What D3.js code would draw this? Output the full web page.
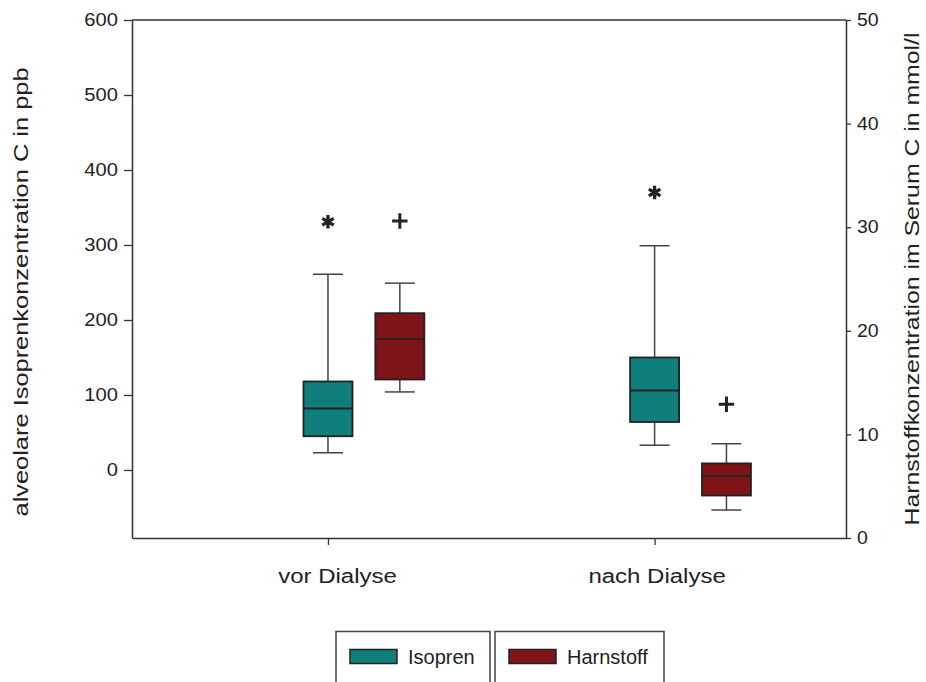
<!DOCTYPE html>
<html>
<head>
<meta charset="utf-8">
<script src="https://cdn.jsdelivr.net/npm/d3@7"></script>
<style>
  html, body { margin: 0; padding: 0; background: #fff; }
  svg { display: block; font-family: "Liberation Sans", Arial, sans-serif; }
</style>
</head>
<body>
<svg id="chart" width="926" height="682"></svg>
<script>
// Groups on the x axis
const categories = ["vor Dialyse", "nach Dialyse"];

// Isopren (left axis, ppb): box-plot statistics per group
const isoprenWhiskerLow  = [23, 33];
const isoprenQ1          = [45, 64];
const isoprenMedian      = [82, 106];
const isoprenQ3          = [118, 150];
const isoprenWhiskerHigh = [261, 299];
const isoprenOutlier     = [331, 370];

// Harnstoff (right axis, mmol/l): box-plot statistics per group
const harnstoffWhiskerLow  = [14.1, 2.7];
const harnstoffQ1          = [15.3, 4.1];
const harnstoffMedian      = [19.2, 6.0];
const harnstoffQ3          = [21.7, 7.2];
const harnstoffWhiskerHigh = [24.6, 9.1];
const harnstoffOutlier     = [30.6, 12.9];

// Tick labels
const leftTicks  = [0, 100, 200, 300, 400, 500, 600];
const rightTicks = [0, 10, 20, 30, 40, 50];

const seriesNames  = ["Isopren", "Harnstoff"];
const seriesColors = ["#0e7f7b", "#7e1418"];

const svg = d3.select("#chart");
const plot = { left: 132, right: 846, top: 20, bottom: 538 };

const x = d3.scaleLinear().domain([0.4, 2.586]).range([plot.left, plot.right]);
const yLeft = d3.scaleLinear().domain([-90.7, 600]).range([plot.bottom, plot.top]);
const yRight = d3.scaleLinear().domain([0, 50]).range([plot.bottom, plot.top]);

const harnstoffShift = 0.22;   // Harnstoff box sits to the right of Isopren
const boxWidth = 49;
const capWidth = 30;

// Widen a text element along its writing direction
function widen(sel, k) {
  sel.each(function () {
    const len = this.getComputedTextLength();
    d3.select(this).attr("textLength", len * k).attr("lengthAdjust", "spacingAndGlyphs");
  });
}

const axisColor = "#333";

// Frame: top line
svg.append("line")
  .attr("x1", plot.left).attr("x2", plot.right)
  .attr("y1", plot.top).attr("y2", plot.top)
  .attr("stroke", axisColor).attr("stroke-width", 1.5);

// Left axis
const gL = svg.append("g").attr("transform", `translate(${plot.left},0)`)
  .call(d3.axisLeft(yLeft).tickValues(leftTicks).tickSize(8).tickPadding(6).tickSizeOuter(0));
// Right axis
const gR = svg.append("g").attr("transform", `translate(${plot.right},0)`)
  .call(d3.axisRight(yRight).tickValues(rightTicks).tickSize(5).tickPadding(6).tickSizeOuter(0));
// Bottom axis
const gB = svg.append("g").attr("transform", `translate(0,${plot.bottom})`)
  .call(d3.axisBottom(x).tickValues([1, 2]).tickFormat((d, i) => categories[i])
    .tickSize(7).tickPadding(24).tickSizeOuter(0));

[gL, gR, gB].forEach(g => {
  g.select(".domain").attr("stroke", axisColor).attr("stroke-width", 1.5);
  g.selectAll(".tick line").attr("stroke", axisColor).attr("stroke-width", 1.3);
  g.selectAll("text").attr("fill", "#222").attr("font-family", "Liberation Sans, Arial, sans-serif");
});
gL.selectAll("text").attr("font-size", 18);
gR.selectAll("text").attr("font-size", 18);
gB.selectAll("text").attr("font-size", 20).attr("dy", "0.71em");
widen(gL.selectAll("text"), 1.12);
widen(gR.selectAll("text"), 1.08);
widen(gB.selectAll("text"), 1.2);
gB.selectAll(".tick text").attr("dx", (d, i) => i === 0 ? 9 : 2);

// Axis titles
const tL = svg.append("text")
  .attr("transform", `translate(28,${(plot.top + plot.bottom) / 2 + 13}) rotate(-90)`)
  .attr("text-anchor", "middle").attr("font-size", 20).attr("fill", "#222")
  .text("alveolare Isoprenkonzentration C in ppb");
widen(tL, 1.27);
const tR = svg.append("text")
  .attr("transform", `translate(919,${(plot.top + plot.bottom) / 2}) rotate(-90)`)
  .attr("text-anchor", "middle").attr("font-size", 20).attr("fill", "#222")
  .text("Harnstoffkonzentration im Serum C in mmol/l");
widen(tR, 1.24);

// Box plots
function drawBoxes(pos, y, lo, q1, med, q3, hi, color) {
  const g = svg.append("g");
  categories.forEach((c, i) => {
    const cx = x(pos[i]);
    // whiskers
    g.append("line").attr("x1", cx).attr("x2", cx).attr("y1", y(hi[i])).attr("y2", y(q3[i]))
      .attr("stroke", "#444").attr("stroke-width", 1.5);
    g.append("line").attr("x1", cx).attr("x2", cx).attr("y1", y(q1[i])).attr("y2", y(lo[i]))
      .attr("stroke", "#444").attr("stroke-width", 1.5);
    [hi[i], lo[i]].forEach(v => {
      g.append("line").attr("x1", cx - capWidth / 2).attr("x2", cx + capWidth / 2)
        .attr("y1", y(v)).attr("y2", y(v)).attr("stroke", "#444").attr("stroke-width", 1.5);
    });
    // box
    g.append("rect").attr("x", cx - boxWidth / 2).attr("width", boxWidth)
      .attr("y", y(q3[i])).attr("height", y(q1[i]) - y(q3[i]))
      .attr("fill", color).attr("stroke", "#222").attr("stroke-width", 1.8);
    // median
    g.append("line").attr("x1", cx - boxWidth / 2).attr("x2", cx + boxWidth / 2)
      .attr("y1", y(med[i])).attr("y2", y(med[i])).attr("stroke", "#222").attr("stroke-width", 1.8);
  });
}

const isoPos = [1, 2];
const harPos = isoPos.map(p => p + harnstoffShift);

drawBoxes(isoPos, yLeft, isoprenWhiskerLow, isoprenQ1, isoprenMedian, isoprenQ3, isoprenWhiskerHigh, seriesColors[0]);
drawBoxes(harPos, yRight, harnstoffWhiskerLow, harnstoffQ1, harnstoffMedian, harnstoffQ3, harnstoffWhiskerHigh, seriesColors[1]);

// Outliers
svg.append("g").selectAll("path").data(isoprenOutlier).join("path")
  .attr("transform", (d, i) => `translate(${x(isoPos[i])},${yLeft(d)})`)
  .attr("d", d3.symbol(d3.symbolAsterisk, 125))
  .attr("fill", "none").attr("stroke", "#222").attr("stroke-width", 3.3);
svg.append("g").selectAll("path").data(harnstoffOutlier).join("path")
  .attr("transform", (d, i) => `translate(${x(harPos[i])},${yRight(d)})`)
  .attr("d", d3.symbol(d3.symbolPlus, 80))
  .attr("fill", "none").attr("stroke", "#222").attr("stroke-width", 3);

// Legend: two framed entries
const legendBoxes = [{ x0: 336, x1: 490 }, { x0: 495, x1: 664 }];
const leg = svg.append("g");
seriesNames.forEach((name, i) => {
  const b = legendBoxes[i];
  leg.append("path")
    .attr("d", `M${b.x0},690 L${b.x0},631.5 L${b.x1},631.5 L${b.x1},690`)
    .attr("fill", "none").attr("stroke", "#444").attr("stroke-width", 1.5);
  leg.append("rect").attr("x", b.x0 + 14).attr("y", 649.5).attr("width", 47).attr("height", 14)
    .attr("fill", seriesColors[i]).attr("stroke", "#222").attr("stroke-width", 1.5);
  leg.append("text").attr("x", b.x0 + 72).attr("y", 664).attr("font-size", 20).attr("fill", "#222")
    .text(name);
});
</script>
</body>
</html>
